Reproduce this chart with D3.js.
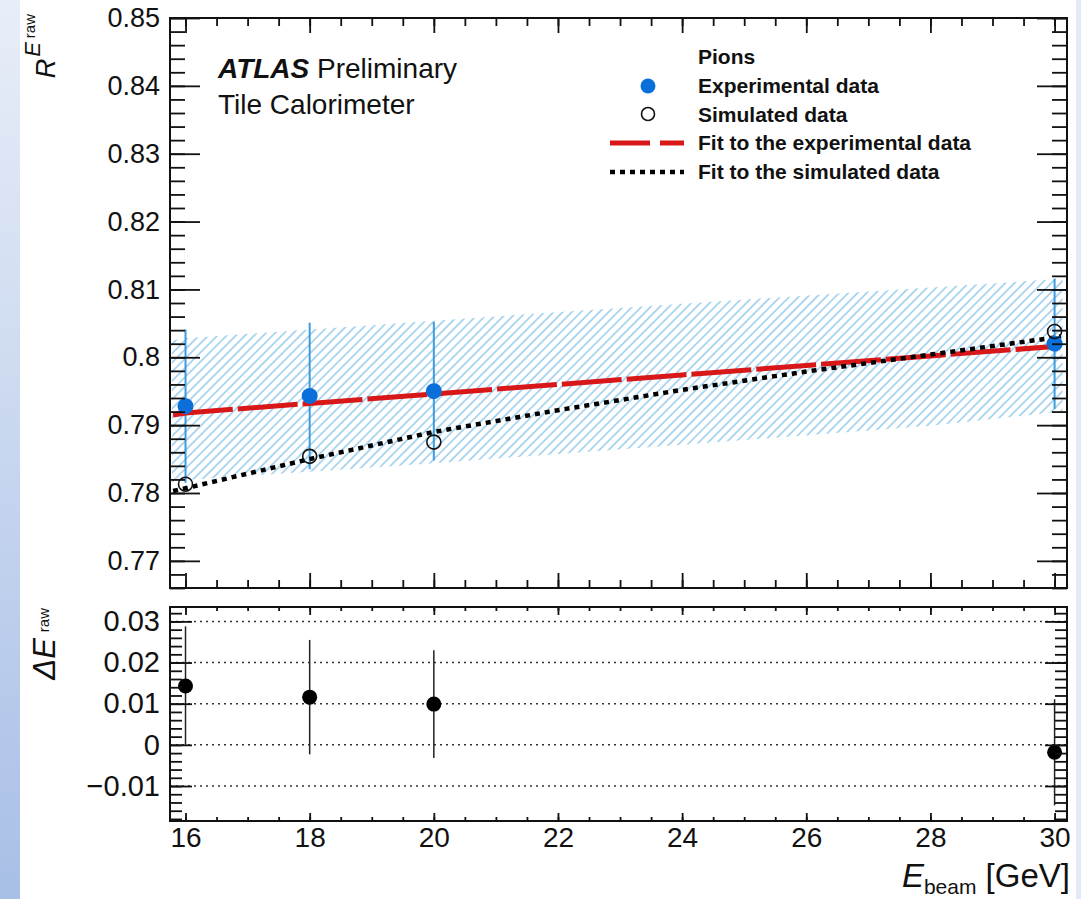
<!DOCTYPE html>
<html>
<head>
<meta charset="utf-8">
<script src="https://cdn.jsdelivr.net/npm/d3@7"></script>
<style>
body { margin: 0; background: #fff; }
svg { display: block; font-family: "Liberation Sans", Arial, Helvetica, sans-serif; }
</style>
</head>
<body>
<svg id="chart" width="1081" height="899"></svg>
<script>
// beam energies and measured points
var energies = [16, 18, 20, 30];
var expResp = [0.7928, 0.7943, 0.7950, 0.8020];
var expErr = [0.0113, 0.0108, 0.0102, 0.0096];
var simResp = [0.7813, 0.7854, 0.7875, 0.8038];
var diffVals = [0.0143, 0.0116, 0.0099, -0.0018];
var diffErr = [0.0145, 0.0139, 0.0131, 0.0129];

// fit curves
var fitE = [15.8, 16, 18, 20, 22, 24, 26, 28, 30, 30.1];
var fitExp = [0.7915, 0.7918, 0.7932, 0.7946, 0.7960, 0.7974, 0.7988, 0.8002, 0.8016, 0.8017];
var fitSim = [0.7803, 0.7807, 0.7850, 0.7890, 0.7922, 0.7952, 0.7979, 0.8004, 0.8029, 0.8031];

// hatched uncertainty band
var bandE = [15.78, 16, 20, 24, 28, 30, 30.13];
var bandHi = [0.8025, 0.8028, 0.8054, 0.8079, 0.8103, 0.8115, 0.8116];
var bandLo = [0.7816, 0.7819, 0.7844, 0.7871, 0.7899, 0.7919, 0.7920];

// tick labels
var xTicks = [16, 18, 20, 22, 24, 26, 28, 30];
var yTicksTop = [0.77, 0.78, 0.79, 0.80, 0.81, 0.82, 0.83, 0.84, 0.85];
var yTicksDiff = [-0.01, 0, 0.01, 0.02, 0.03];

var legendItems = ["Experimental data", "Simulated data", "Fit to the experimental data", "Fit to the simulated data"];

var L = 170, R = 1067, T1 = 18, B1 = 588, T2 = 607, B2 = 821;
var BLUE = "#0a6fd8", BLUE_BAR = "#3d9be0", RED = "#d81818";

var svg = d3.select("#chart");

// background strips at the image edges
var defs = svg.append("defs");
var grad = defs.append("linearGradient").attr("id", "edge").attr("x1", 0).attr("y1", 0).attr("x2", 0).attr("y2", 1);
grad.append("stop").attr("offset", "0%").attr("stop-color", "#e8eef8");
grad.append("stop").attr("offset", "100%").attr("stop-color", "#a8bfe6");
svg.append("rect").attr("x", 0).attr("y", 0).attr("width", 20).attr("height", 899).attr("fill", "url(#edge)");
svg.append("rect").attr("x", 1076).attr("y", 0).attr("width", 5).attr("height", 899).attr("fill", "#e2eaf7");

var hatch = defs.append("pattern").attr("id", "hatch")
    .attr("patternUnits", "userSpaceOnUse")
    .attr("width", 6.5).attr("height", 10)
    .attr("patternTransform", "rotate(45)");
hatch.append("line").attr("x1", 1).attr("y1", 0).attr("x2", 1).attr("y2", 10)
    .attr("stroke", "#7cbde6").attr("stroke-width", 1.2);

var x = d3.scaleLinear().domain([15.75, 30.2]).range([L, R]);
var y1 = d3.scaleLinear().domain([0.766, 0.85]).range([B1, T1]);
var y2 = d3.scaleLinear().domain([-0.0185, 0.0335]).range([B2, T2]);

function fmt(d) {
    var s = String(+d.toFixed(3));
    return s.replace("-", "\u2212");
}

function styleAxis(g) {
    g.select(".domain").remove();
    g.selectAll(".tick line").attr("stroke", "#111").attr("stroke-width", 1.8);
}

function drawAxes(yScale, top, bottom, yMajor, yMinor, yMaj, yMin, xMaj, xMin, yFont, withXLabels) {
    var xMinor = d3.range(16, 30.01, 0.5);
    // y ticks left/right
    svg.append("g").attr("transform", "translate(" + L + ",0)")
        .call(d3.axisLeft(yScale).tickValues(yMinor).tickSize(-yMin).tickFormat("")).call(styleAxis);
    var lab = svg.append("g").attr("transform", "translate(" + L + ",0)")
        .call(d3.axisLeft(yScale).tickValues(yMajor).tickSize(-yMaj).tickPadding(10).tickFormat(fmt)).call(styleAxis);
    lab.selectAll("text").attr("font-size", yFont).attr("fill", "#111").attr("font-family", null);
    svg.append("g").attr("transform", "translate(" + R + ",0)")
        .call(d3.axisRight(yScale).tickValues(yMinor).tickSize(-yMin).tickFormat("")).call(styleAxis);
    svg.append("g").attr("transform", "translate(" + R + ",0)")
        .call(d3.axisRight(yScale).tickValues(yMajor).tickSize(-yMaj).tickFormat("")).call(styleAxis);
    // x ticks top/bottom
    svg.append("g").attr("transform", "translate(0," + top + ")")
        .call(d3.axisTop(x).tickValues(xMinor).tickSize(-xMin).tickFormat("")).call(styleAxis);
    svg.append("g").attr("transform", "translate(0," + top + ")")
        .call(d3.axisTop(x).tickValues(xTicks).tickSize(-xMaj).tickFormat("")).call(styleAxis);
    svg.append("g").attr("transform", "translate(0," + bottom + ")")
        .call(d3.axisBottom(x).tickValues(xMinor).tickSize(-xMin).tickFormat("")).call(styleAxis);
    var xl = svg.append("g").attr("transform", "translate(0," + bottom + ")")
        .call(d3.axisBottom(x).tickValues(xTicks).tickSize(-xMaj).tickPadding(6)
            .tickFormat(withXLabels ? d3.format("d") : "")).call(styleAxis);
    xl.selectAll("text").attr("font-size", 28).attr("fill", "#111");
}

// ---------- top panel ----------
var bandArea = d3.area()
    .x(function (d) { return x(d[0]); })
    .y0(function (d) { return y1(d[2]); })
    .y1(function (d) { return y1(d[1]); });
svg.append("path")
    .datum(bandE.map(function (e, i) { return [e, bandHi[i], bandLo[i]]; }))
    .attr("d", bandArea).attr("fill", "url(#hatch)");

svg.append("g").selectAll("line").data(energies).enter().append("line")
    .attr("x1", function (d) { return x(d); }).attr("x2", function (d) { return x(d); })
    .attr("y1", function (d, i) { return y1(expResp[i] + expErr[i]); })
    .attr("y2", function (d, i) { return y1(expResp[i] - expErr[i]); })
    .attr("stroke", BLUE_BAR).attr("stroke-width", 2);

var line = d3.line().x(function (d) { return x(d[0]); }).y(function (d) { return y1(d[1]); });
svg.append("path").datum(fitE.map(function (e, i) { return [e, fitExp[i]]; }))
    .attr("d", line).attr("fill", "none").attr("stroke", RED)
    .attr("stroke-width", 5).attr("stroke-dasharray", "60,5");
svg.append("path").datum(fitE.map(function (e, i) { return [e, fitSim[i]]; }))
    .attr("d", line).attr("fill", "none").attr("stroke", "#000")
    .attr("stroke-width", 4.5).attr("stroke-dasharray", "5,5");

svg.append("g").selectAll("circle").data(energies).enter().append("circle")
    .attr("cx", function (d) { return x(d); })
    .attr("cy", function (d, i) { return y1(expResp[i]); })
    .attr("r", 8).attr("fill", BLUE);
svg.append("g").selectAll("circle").data(energies).enter().append("circle")
    .attr("cx", function (d) { return x(d); })
    .attr("cy", function (d, i) { return y1(simResp[i]); })
    .attr("r", 7).attr("fill", "none").attr("stroke", "#111").attr("stroke-width", 1.6);

drawAxes(y1, T1, B1, yTicksTop, d3.range(766, 851, 2).map(function (v) { return v / 1000; }),
    30, 15, 15, 8, 27, false);
svg.append("rect").attr("x", L).attr("y", T1).attr("width", R - L).attr("height", B1 - T1)
    .attr("fill", "none").attr("stroke", "#111").attr("stroke-width", 2);

// ATLAS label
var atl = svg.append("text").attr("x", 218).attr("y", 78).attr("font-size", 28).attr("fill", "#111");
atl.append("tspan").attr("font-weight", "bold").attr("font-style", "italic").text("ATLAS");
atl.append("tspan").text(" Preliminary");
svg.append("text").attr("x", 218).attr("y", 114).attr("font-size", 28).attr("fill", "#111").text("Tile Calorimeter");

// legend
var lg = svg.append("g").attr("font-size", 21).attr("font-weight", "bold").attr("fill", "#111");
lg.append("text").attr("x", 698).attr("y", 64).text("Pions");
lg.selectAll("text.item").data(legendItems).enter().append("text").attr("class", "item")
    .attr("x", 698).attr("y", function (d, i) { return 93 + i * 28.5; }).text(function (d) { return d; });
lg.append("circle").attr("cx", 648).attr("cy", 86).attr("r", 7.5).attr("fill", BLUE);
lg.append("circle").attr("cx", 648).attr("cy", 114).attr("r", 6.5).attr("fill", "none")
    .attr("stroke", "#111").attr("stroke-width", 1.6);
lg.append("line").attr("x1", 610).attr("x2", 684).attr("y1", 143).attr("y2", 143)
    .attr("stroke", RED).attr("stroke-width", 5).attr("stroke-dasharray", "40,10");
lg.append("line").attr("x1", 610).attr("x2", 684).attr("y1", 172).attr("y2", 172)
    .attr("stroke", "#000").attr("stroke-width", 4.5).attr("stroke-dasharray", "5,5");

// y title top: R^{E^raw}
var t1 = svg.append("text").attr("transform", "translate(55,14) rotate(-90)")
    .attr("text-anchor", "end").attr("fill", "#111");
t1.append("tspan").attr("font-size", 27).attr("font-style", "italic").text("R");
t1.append("tspan").attr("font-size", 22).attr("font-style", "italic").attr("dx", 2).attr("dy", -15).text("E");
t1.append("tspan").attr("font-size", 15).attr("dx", 4).attr("dy", -5).text("raw");

// ---------- bottom panel ----------
svg.append("g").selectAll("line").data(yTicksDiff).enter().append("line")
    .attr("x1", L).attr("x2", R)
    .attr("y1", function (d) { return y2(d); }).attr("y2", function (d) { return y2(d); })
    .attr("stroke", "#333").attr("stroke-width", 1.5).attr("stroke-dasharray", "2,4");

svg.append("g").selectAll("line").data(energies).enter().append("line")
    .attr("x1", function (d) { return x(d); }).attr("x2", function (d) { return x(d); })
    .attr("y1", function (d, i) { return y2(diffVals[i] + diffErr[i]); })
    .attr("y2", function (d, i) { return y2(diffVals[i] - diffErr[i]); })
    .attr("stroke", "#222").attr("stroke-width", 1.5);
svg.append("g").selectAll("circle").data(energies).enter().append("circle")
    .attr("cx", function (d) { return x(d); })
    .attr("cy", function (d, i) { return y2(diffVals[i]); })
    .attr("r", 7.5).attr("fill", "#000");

drawAxes(y2, T2, B2, yTicksDiff, d3.range(-18, 34, 2).map(function (v) { return v / 1000; }),
    22, 12, 8, 4, 29, true);
svg.append("rect").attr("x", L).attr("y", T2).attr("width", R - L).attr("height", B2 - T2)
    .attr("fill", "none").attr("stroke", "#111").attr("stroke-width", 2);

// y title bottom: ΔE^raw
var t2 = svg.append("text").attr("transform", "translate(55,608) rotate(-90)")
    .attr("text-anchor", "end").attr("fill", "#111");
t2.append("tspan").attr("font-size", 31).attr("font-style", "italic").text("\u0394E");
t2.append("tspan").attr("font-size", 15).attr("dx", 6).attr("dy", -6).text("raw");

// x title
var xt = svg.append("text").attr("x", 1070).attr("y", 887).attr("text-anchor", "end").attr("fill", "#111");
xt.append("tspan").attr("font-size", 33).attr("font-style", "italic").text("E");
xt.append("tspan").attr("font-size", 21).attr("dy", 7).text("beam");
xt.append("tspan").attr("font-size", 33).attr("dy", -7).text(" [GeV]");
</script>
</body>
</html>
